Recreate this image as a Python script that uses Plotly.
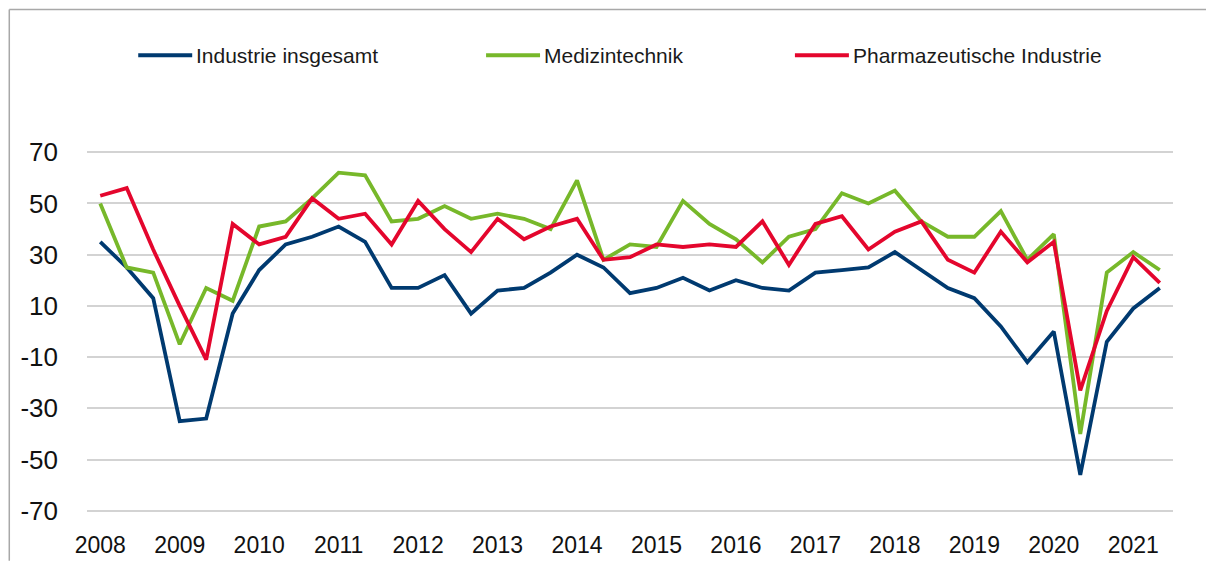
import plotly.graph_objects as go

# ---- data (survey, three surveys per year, 2008 .. 2021) ----
years = [2008, 2009, 2010, 2011, 2012, 2013, 2014, 2015, 2016, 2017, 2018, 2019, 2020, 2021]
surveys_per_year = 3

series_names = ["Industrie insgesamt", "Medizintechnik", "Pharmazeutische Industrie"]

industrie = [35, 25, 13, -35, -34, 7, 24, 34, 37, 41, 35,
             17, 17, 22, 7, 16, 17, 23, 30, 25, 15, 17,
             21, 16, 20, 17, 16, 23, 24, 25, 31, 24, 17,
             13, 2, -12, 0, -56, -4, 9, 17]
medizintechnik = [50, 25, 23, -5, 17, 12, 41, 43, 52, 62, 61,
                  43, 44, 49, 44, 46, 44, 40, 59, 28, 34, 33,
                  51, 42, 36, 27, 37, 40, 54, 50, 55, 43, 37,
                  37, 47, 28, 38, -40, 23, 31, 24]
pharma = [53, 56, 32, 10, -11, 42, 34, 37, 52, 44, 46,
          34, 51, 40, 31, 44, 36, 41, 44, 28, 29, 34,
          33, 34, 33, 43, 26, 42, 45, 32, 39, 43, 28,
          23, 39, 27, 35, -23, 8, 29, 19]

y_ticks = [70, 50, 30, 10, -10, -30, -50, -70]
y_ticktext = [str(v) if v >= 0 else "-" + str(-v) for v in y_ticks]

colors = ["#003a70", "#77b82a", "#e4062d"]

# ---- layout geometry (figure pixel coordinates) ----
W, H = 1214, 562
ML, MR = 78.75, 48.75
Y_RANGE = [-74, 74]
px_per_unit = 359 / 140.0
plot_h = (Y_RANGE[1] - Y_RANGE[0]) * px_per_unit
MT = 144 - (Y_RANGE[1] - 70) * px_per_unit
MB = H - MT - plot_h
plot_w = W - ML - MR

x = list(range(len(industrie)))
tickvals = [i * surveys_per_year for i in range(len(years))]
ticktext = [str(y) for y in years]

fig = go.Figure()
for name, vals, col in zip(series_names, [industrie, medizintechnik, pharma], colors):
    fig.add_trace(go.Scatter(x=x, y=vals, mode="lines", name=name,
                             line=dict(color=col, width=3.8),
                             showlegend=False))

font_family = "Liberation Sans, Arial, sans-serif"

def px_to_paper_x(px):
    return (px - ML) / plot_w

def py_to_paper_y(py):
    return (MT + plot_h - py) / plot_h

shapes = []
annotations = []
# frame: top and left border of the chart box (the rest lies outside the view)
shapes.append(dict(type="line", xref="paper", yref="paper",
                   x0=px_to_paper_x(1), x1=px_to_paper_x(W - 9),
                   y0=py_to_paper_y(1), y1=py_to_paper_y(1),
                   line=dict(color="#a8a8a8", width=1.5)))
shapes.append(dict(type="line", xref="paper", yref="paper",
                   x0=px_to_paper_x(1), x1=px_to_paper_x(1),
                   y0=py_to_paper_y(1), y1=py_to_paper_y(H - 9),
                   line=dict(color="#a8a8a8", width=1.5)))

# manual legend
legend_starts = [130, 478, 787]
legend_y = 47
for name, col, sx in zip(series_names, colors, legend_starts):
    shapes.append(dict(type="line", xref="paper", yref="paper",
                       x0=px_to_paper_x(sx), x1=px_to_paper_x(sx + 54),
                       y0=py_to_paper_y(legend_y), y1=py_to_paper_y(legend_y),
                       line=dict(color=col, width=4)))
    annotations.append(dict(xref="paper", yref="paper",
                            x=px_to_paper_x(sx + 56), y=py_to_paper_y(legend_y),
                            xanchor="left", yanchor="middle", showarrow=False,
                            text=name, font=dict(family=font_family, size=21, color="#1a1a1a")))

fig.update_layout(
    width=W, height=H,
    margin=dict(l=ML, r=MR, t=MT, b=MB, pad=0),
    paper_bgcolor="white", plot_bgcolor="white",
    showlegend=False,
    shapes=shapes, annotations=annotations,
    xaxis=dict(range=[-0.5, len(x) - 0.5], tickvals=tickvals, ticktext=ticktext,
               showgrid=False, zeroline=False, showline=False, ticks="",
               automargin=False,
               tickfont=dict(family=font_family, size=23, color="#111111"),
               ticklabelstandoff=8),
    yaxis=dict(range=Y_RANGE, tickvals=y_ticks, ticktext=y_ticktext,
               showgrid=True, gridcolor="#d3d3d3", gridwidth=1.5,
               zeroline=False, showline=False, ticks="",
               automargin=False,
               tickfont=dict(family=font_family, size=26, color="#111111"),
               ticklabelstandoff=28),
)

fig.write_html("out.html")
